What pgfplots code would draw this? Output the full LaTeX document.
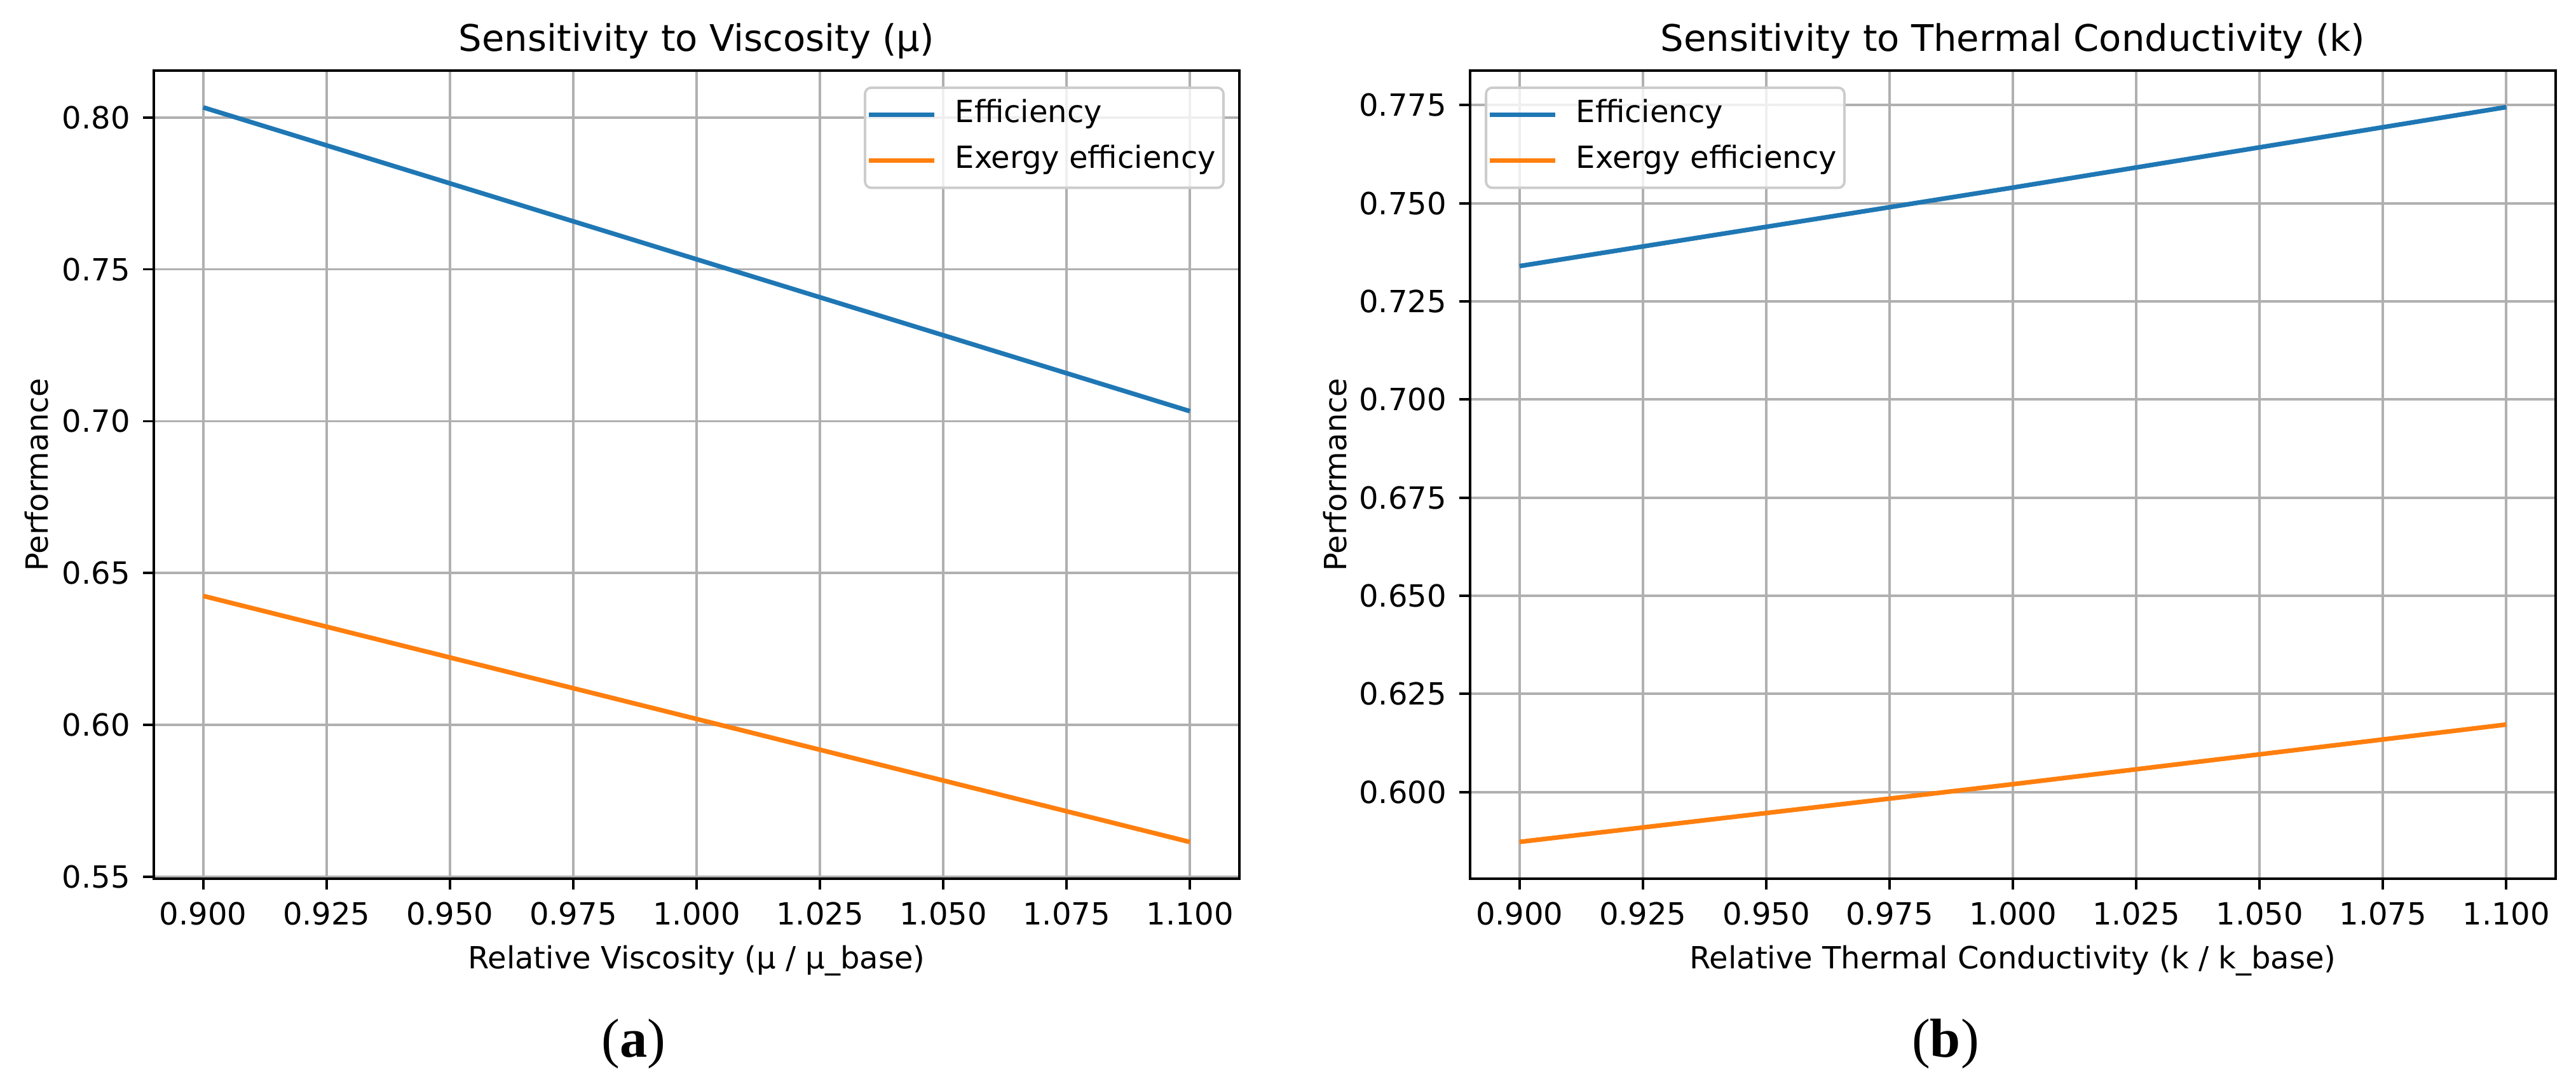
\documentclass[border=0pt]{standalone}
\usepackage{fontspec}
\setmainfont{DejaVu Sans}
\newfontfamily\capfont{Liberation Serif}
\usepackage{pgfplots}
\pgfplotsset{compat=1.18}
\definecolor{mplblue}{HTML}{1F77B4}
\definecolor{mplorange}{HTML}{FF7F0E}
\definecolor{gridgray}{HTML}{B0B0B0}
\pgfplotsset{
  every axis title shift=0pt,
  mpl/.style={
    scale only axis,
    width=355.8pt, height=264.8pt,
    xmin=0.89, xmax=1.11,
    xtick={0.9,0.925,0.95,0.975,1.0,1.025,1.05,1.075,1.1},
    xticklabel style={/pgf/number format/fixed, /pgf/number format/fixed zerofill, /pgf/number format/precision=3},
    grid=major,
    major grid style={color=gridgray, line width=0.8pt},
    axis line style={black, line width=0.8pt},
    tick pos=left,
    tick align=outside,
    major tick length=3.5pt,
    tick style={black, line width=0.8pt},
    /pgf/number format/assume math mode=true,
    tick label style={font=\fontsize{10}{12}\selectfont},
    xticklabel style={anchor=base, inner sep=0pt, yshift=-11.5pt},
    yticklabel style={anchor=east, inner sep=0pt, xshift=-4.1pt},
    label style={font=\fontsize{10}{12}\selectfont},
    xlabel style={at={(axis description cs:0.5,-0.1115)}, anchor=base},
    title style={at={(axis description cs:0.5,1)}, anchor=base, yshift=6.4pt, font=\fontsize{12}{14}\selectfont},
    legend cell align=left,
    legend image code/.code={\draw[#1, line width=1.5pt] (0pt,0pt) -- (21.5pt,0pt);},
    legend style={font=\fontsize{10}{12}\selectfont, draw=black!20, line width=0.8pt, rounded corners=2pt,
      fill=white, fill opacity=0.8, text opacity=1, inner xsep=0.5pt, inner ysep=1.9pt, row sep=1pt,
      nodes={inner sep=2pt, text height=7.5pt, text depth=2.5pt},
      /tikz/every odd column/.append style={column sep=4pt}},
    every axis plot/.append style={line width=1.5pt},
  }
}
\begin{document}
\begin{tikzpicture}
\useasboundingbox (0,0) rectangle (844.375pt,353.54pt);
\begin{axis}[mpl, at={(50.42pt,65.6pt)}, anchor=south west,
  ymin=0.5494, ymax=0.8154,
  ytick={0.55,0.60,0.65,0.70,0.75,0.80},
  yticklabel style={/pgf/number format/fixed, /pgf/number format/fixed zerofill, /pgf/number format/precision=2},
  title={Sensitivity to Viscosity (μ)},
  xlabel={Relative Viscosity (μ / μ\_base)},
  ylabel={Performance},
  ylabel style={at={(axis description cs:-0.0973,0.5)}, anchor=base},
  legend style={at={(1,1)}, anchor=north east, xshift=-4.8pt, yshift=-5.2pt},
]
\addplot[mplblue] coordinates {(0.9,0.8033) (1.0,0.7533) (1.1,0.7033)};
\addlegendentry{Efficiency}
\addplot[mplorange] coordinates {(0.9,0.6425) (1.0,0.6020) (1.1,0.5615)};
\addlegendentry{Exergy efficiency}
\end{axis}
\begin{axis}[mpl, at={(481.9pt,65.6pt)}, anchor=south west,
  ymin=0.5779, ymax=0.7838,
  ytick={0.6,0.625,0.65,0.675,0.7,0.725,0.75,0.775},
  yticklabel style={/pgf/number format/fixed, /pgf/number format/fixed zerofill, /pgf/number format/precision=3},
  title={Sensitivity to Thermal Conductivity (k)},
  xlabel={Relative Thermal Conductivity (k / k\_base)},
  ylabel={Performance},
  ylabel style={at={(axis description cs:-0.114,0.5)}, anchor=base},
  legend style={at={(0,1)}, anchor=north west, xshift=4.8pt, yshift=-5.2pt},
]
\addplot[mplblue] coordinates {(0.9,0.7340) (1.0,0.7540) (1.1,0.7745)};
\addlegendentry{Efficiency}
\addplot[mplorange] coordinates {(0.9,0.5873) (1.0,0.6020) (1.1,0.6172)};
\addlegendentry{Exergy efficiency}
\end{axis}
\node[font=\capfont\fontsize{18}{20}\selectfont, anchor=base] at (207.7pt,7.1pt) {(\textbf{a})};
\node[font=\capfont\fontsize{18}{20}\selectfont, anchor=base] at (637.7pt,7.1pt) {(\textbf{b})};
\end{tikzpicture}
\end{document}
